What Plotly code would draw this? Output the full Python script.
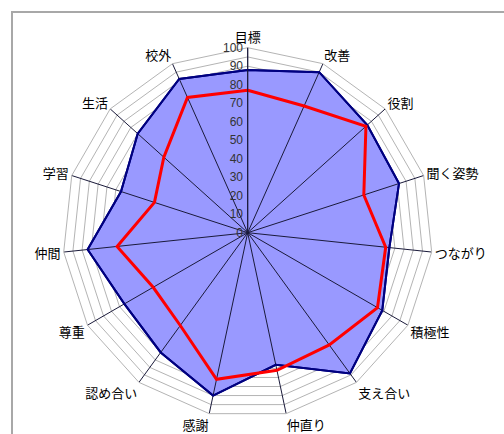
import plotly.graph_objects as go

categories = ["目標", "改善", "役割", "聞く姿勢", "つながり", "積極性", "支え合い",
              "仲直り", "感謝", "認め合い", "尊重", "仲間", "学習", "生活", "校外"]
series_blue = [88, 95, 87, 86, 77, 84, 94, 73, 90, 80, 77, 87, 72, 80, 91]
series_red = [77, 75, 86, 66, 75, 81, 75, 76, 81, 62, 59, 71, 53, 61, 80]
radial_ticks = list(range(0, 101, 5))
radial_labels = [str(v) if v % 10 == 0 else "" for v in radial_ticks]
r_max = 100
spoke_overhang = 1.03

W, H = 504, 434
cx, cy, R = 247.7, 232.7, 185

fig = go.Figure()

# blue filled area
fig.add_trace(go.Scatterpolar(
    r=series_blue + series_blue[:1], theta=categories + categories[:1],
    mode="lines", fill="toself", fillcolor="#9999FF",
    line=dict(color="#000080", width=2), hoverinfo="skip", showlegend=False))

# spokes (category axis lines) drawn above the fill
sr, st = [], []
for c in categories:
    sr += [0, r_max * spoke_overhang, None]
    st += [c, c, None]
fig.add_trace(go.Scatterpolar(
    r=sr, theta=st, mode="lines", connectgaps=False, cliponaxis=False,
    line=dict(color="#1a1a3a", width=1), hoverinfo="skip", showlegend=False))

# blue outline again on top of spokes
fig.add_trace(go.Scatterpolar(
    r=series_blue + series_blue[:1], theta=categories + categories[:1],
    mode="lines", line=dict(color="#000080", width=2),
    hoverinfo="skip", showlegend=False))

# red line
fig.add_trace(go.Scatterpolar(
    r=series_red + series_red[:1], theta=categories + categories[:1],
    mode="lines", line=dict(color="#FF0000", width=3),
    hoverinfo="skip", showlegend=False))

fig.update_layout(
    width=W, height=H, autosize=False,
    margin=dict(l=0, r=0, t=0, b=0),
    paper_bgcolor="white", plot_bgcolor="white",
    showlegend=False,
    font=dict(family="Noto Sans CJK JP", size=13, color="#000000"),
    polar=dict(
        domain=dict(x=[(cx - R) / W, (cx + R) / W],
                    y=[(H - cy - R) / H, (H - cy + R) / H]),
        bgcolor="white",
        gridshape="linear",
        radialaxis=dict(
            range=[0, r_max], angle=90, tickangle=90,
            tickmode="array", tickvals=radial_ticks, ticktext=radial_labels,
            showgrid=True, gridcolor="#b4b4b4", gridwidth=1,
            showline=True, linecolor="#1a1a3a", linewidth=1,
            ticks="", side="counterclockwise",
            tickfont=dict(family="Liberation Sans", size=12, color="#333333")),
        angularaxis=dict(
            type="category", categoryorder="array", categoryarray=categories,
            rotation=90, direction="clockwise",
            showgrid=False, showline=True, linecolor="#b4b4b4", linewidth=1,
            ticks="",
            tickfont=dict(family="Noto Sans CJK JP", size=13, color="#000000")),
    ),
    shapes=[dict(type="rect", xref="paper", yref="paper",
                 x0=12 / W, y0=-0.1, x1=1.1, y1=1 - 12 / H,
                 line=dict(color="#a8a8a8", width=2), layer="below")],
)

fig.write_html(
    "out.html",
    config={"displayModeBar": False},
    post_script="document.body.style.margin='0px';document.body.style.overflow='hidden';",
)
